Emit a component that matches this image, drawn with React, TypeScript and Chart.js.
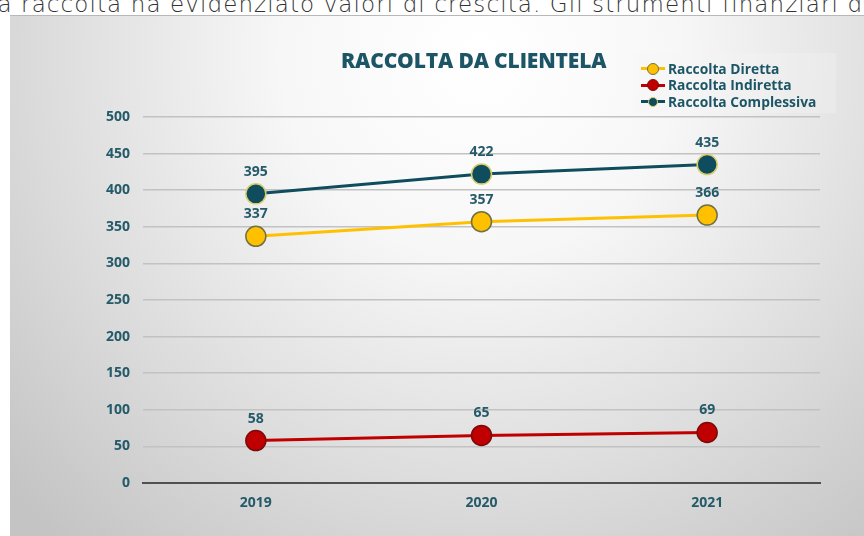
import React, { useEffect, useRef } from "react";
import { Chart, registerables } from "chart.js";

Chart.register(...registerables);

const categories = ["2019", "2020", "2021"];
const raccoltaDiretta = [337, 357, 366];
const raccoltaIndiretta = [58, 65, 69];
const raccoltaComplessiva = [395, 422, 435];
const seriesNames = ["Raccolta Diretta", "Raccolta Indiretta", "Raccolta Complessiva"];
const yTicks = [0, 50, 100, 150, 200, 250, 300, 350, 400, 450, 500];
const chartTitle = "RACCOLTA DA CLIENTELA";
const pageText = "la raccolta ha evidenziato valori di crescita. Gli strumenti finanziari d";

const TEXT = "#245a69";
const FONT = "'Open Sans', 'DejaVu Sans', sans-serif";

const bgPlugin = {
  id: "bgPlugin",
  beforeDraw(chart: any) {
    const { ctx, width, height } = chart;
    ctx.save();
    const g = ctx.createRadialGradient(470, 40, 10, 470, 40, 640);
    g.addColorStop(0, "#ffffff");
    g.addColorStop(0.3, "#f7f7f7");
    g.addColorStop(0.65, "#dedede");
    g.addColorStop(1, "#c4c4c4");
    ctx.fillStyle = g;
    ctx.fillRect(0, 0, width, height);
    ctx.strokeStyle = "#b8b8b8";
    ctx.lineWidth = 1;
    ctx.beginPath();
    ctx.moveTo(0, 0.5);
    ctx.lineTo(width, 0.5);
    ctx.stroke();
    ctx.restore();
  },
};

const labelPlugin = {
  id: "labelPlugin",
  afterDatasetsDraw(chart: any) {
    const { ctx } = chart;
    ctx.save();
    ctx.font = `bold 14px ${FONT}`;
    ctx.fillStyle = TEXT;
    ctx.textAlign = "center";
    ctx.textBaseline = "middle";
    chart.data.datasets.forEach((ds: any, i: number) => {
      const meta = chart.getDatasetMeta(i);
      meta.data.forEach((pt: any, j: number) => {
        ctx.fillText(String(ds.data[j]), pt.x, pt.y - 22);
      });
    });
    ctx.restore();
  },
};

export default function App() {
  const ref = useRef<HTMLCanvasElement | null>(null);
  useEffect(() => {
    if (!ref.current) return;
    const chart = new Chart(ref.current, {
      type: "line",
      data: {
        labels: categories,
        datasets: [
          {
            label: seriesNames[2],
            data: raccoltaComplessiva,
            borderColor: "#0e4c5e",
            backgroundColor: "#0e4c5e",
            pointBackgroundColor: "#0e4c5e",
            pointBorderColor: "#d9cd6a",
            borderWidth: 3,
            pointRadius: 10,
            pointBorderWidth: 1.5,
          },
          {
            label: seriesNames[0],
            data: raccoltaDiretta,
            borderColor: "#ffc000",
            backgroundColor: "#ffc000",
            pointBackgroundColor: "#ffc000",
            pointBorderColor: "#6e7046",
            borderWidth: 3,
            pointRadius: 10,
            pointBorderWidth: 1.5,
          },
          {
            label: seriesNames[1],
            data: raccoltaIndiretta,
            borderColor: "#c00000",
            backgroundColor: "#c00000",
            pointBackgroundColor: "#c00000",
            pointBorderColor: "#7a0a0a",
            borderWidth: 3,
            pointRadius: 10,
            pointBorderWidth: 1.5,
          },
        ],
      },
      options: {
        animation: false,
        responsive: false,
        maintainAspectRatio: false,
        layout: { padding: { top: 102, right: 44, left: 0, bottom: 0 } },
        plugins: {
          legend: { display: false },
          title: { display: false },
          tooltip: { enabled: false },
        },
        scales: {
          x: {
            offset: true,
            grid: { display: false, drawTicks: false },
            border: { display: true, color: "#505050", width: 2 },
            ticks: {
              color: TEXT,
              font: { family: FONT, weight: "bold", size: 14 },
              padding: 12,
            },
            afterFit(scale: any) {
              scale.height = 53;
            },
          },
          y: {
            min: 0,
            max: 500,
            afterBuildTicks(scale: any) {
              scale.ticks = yTicks.map((v) => ({ value: v }));
            },
            grid: {
              drawTicks: false,
              color: (c: any) => (c.tick && c.tick.value === 0 ? "rgba(0,0,0,0)" : "#c2c2c2"),
              lineWidth: 1.5,
            },
            border: { display: false },
            ticks: {
              color: TEXT,
              font: { family: FONT, weight: "bold", size: 14 },
              padding: 13,
            },
            afterFit(scale: any) {
              scale.width = 133;
            },
          },
        },
      },
      plugins: [bgPlugin, labelPlugin],
    });
    return () => chart.destroy();
  }, []);

  const legendItems = [
    { name: seriesNames[0], line: "#ffc000", fill: "#ffc000", border: "#6e7046", r: 5 },
    { name: seriesNames[1], line: "#c00000", fill: "#c00000", border: "#7a0a0a", r: 5 },
    { name: seriesNames[2], line: "#0e4c5e", fill: "#0e4c5e", border: "#d9cd6a", r: 4 },
  ];

  return (
    <div style={{ position: "absolute", left: 0, top: 0, width: 864, height: 536, overflow: "hidden", background: "#fff" }}>
      <div
        style={{
          position: "absolute",
          left: -10,
          top: -8,
          whiteSpace: "nowrap",
          fontFamily: "'DejaVu Sans', sans-serif",
          fontWeight: 300,
          fontSize: 23,
          lineHeight: "24px",
          letterSpacing: "1.1px",
          color: "#333333",
        }}
      >
        {pageText}
      </div>
      <div style={{ position: "absolute", left: 10, top: 15, width: 854, height: 521 }}>
        <canvas ref={ref} width={854} height={521} style={{ width: 854, height: 521, display: "block" }} />
        <div
          style={{
            position: "absolute",
            left: 331,
            top: 31,
            fontFamily: FONT,
            fontWeight: 800,
            fontSize: 21,
            letterSpacing: "-0.15px",
            color: "#1c5565",
            whiteSpace: "nowrap",
          }}
        >
          {chartTitle}
        </div>
        <div
          style={{
            position: "absolute",
            left: 623,
            top: 38,
            width: 203,
            height: 60,
            background: "rgba(245,245,245,0.3)",
            paddingTop: 7,
            boxSizing: "border-box",
          }}
        >
          {legendItems.map((it) => (
            <div key={it.name} style={{ display: "flex", alignItems: "center", height: 16.5, paddingLeft: 8 }}>
              <div style={{ position: "relative", width: 24, height: 12, marginRight: 3 }}>
                <div style={{ position: "absolute", left: 0, top: 5, width: 24, height: 3, background: it.line }} />
                <div
                  style={{
                    position: "absolute",
                    left: 12 - it.r - 1,
                    top: 6.5 - it.r - 1,
                    width: it.r * 2,
                    height: it.r * 2,
                    borderRadius: "50%",
                    background: it.fill,
                    border: `1px solid ${it.border}`,
                  }}
                />
              </div>
              <span style={{ fontFamily: FONT, fontWeight: 700, fontSize: 13.8, color: "#1c5565", whiteSpace: "nowrap" }}>
                {it.name}
              </span>
            </div>
          ))}
        </div>
      </div>
    </div>
  );
}
